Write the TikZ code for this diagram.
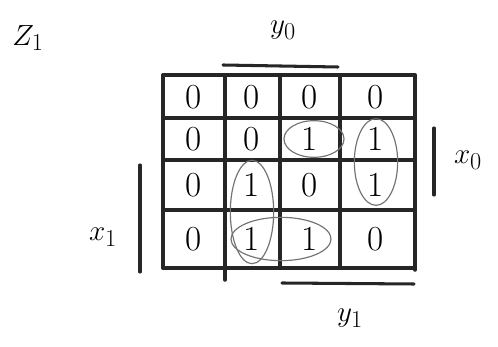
\documentclass[tikz,border=0pt]{standalone}
\usepackage{amsmath,amssymb}
\usetikzlibrary{calc, positioning}

\begin{document}
\begin{tikzpicture}[
    x = 0.03cm, y = -0.03cm,
    cell/.style = {
      inner sep = 0pt, font = \fontsize{30}{34}\selectfont
    },
    label/.style = {
      inner sep = 0pt, font = \fontsize{32}{36}\selectfont
    },
    grid/.style = {
      line width = 3pt, line cap = round, black!85
    },
    bar/.style = {
      line width = 2.6pt, line cap = round, black!85
    },
    ring/.style = {
      line width = 1pt, black!55
    },
    ]
\useasboundingbox (0,0) rectangle (498,347);

% labels
\node  [label]  (z1)  at  (28,38)   {$Z_1$};
\node  [label]  (y0)  at  (283,30)  {$y_0$};
\node  [label]  (x0)  at  (468,160) {$x_0$};
\node  [label]  (x1)  at  (103,237) {$x_1$};
\node  [label]  (y1)  at  (350,318) {$y_1$};

% grid
\draw  [grid]  (163,75)  --  (415,75);
\draw  [grid]  (163,118)  --  (415,118);
\draw  [grid]  (163,160)  --  (415,160);
\draw  [grid]  (163,210)  --  (415,210);
\draw  [grid]  (163,268)  --  (415,268);
\draw  [grid]  (163,75)  --  (163,268);
\draw  [grid]  (225,75)  --  (225,280);
\draw  [grid]  (280,75)  --  (280,268);
\draw  [grid]  (340,75)  --  (340,268);
\draw  [grid]  (415,75)  --  (415,270);

% cells
\node  [cell]  (c11)  at  (194,97)   {0};
\node  [cell]  (c12)  at  (252,97)   {0};
\node  [cell]  (c13)  at  (310,97)   {0};
\node  [cell]  (c14)  at  (376,97)   {0};
\node  [cell]  (c21)  at  (194,139)  {0};
\node  [cell]  (c22)  at  (252,139)  {0};
\node  [cell]  (c23)  at  (310,139)  {1};
\node  [cell]  (c24)  at  (376,139)  {1};
\node  [cell]  (c31)  at  (194,185)  {0};
\node  [cell]  (c32)  at  (252,185)  {1};
\node  [cell]  (c33)  at  (310,185)  {0};
\node  [cell]  (c34)  at  (376,185)  {1};
\node  [cell]  (c41)  at  (194,239)  {0};
\node  [cell]  (c42)  at  (252,239)  {1};
\node  [cell]  (c43)  at  (310,239)  {1};
\node  [cell]  (c44)  at  (376,239)  {0};

% groups
\draw  [ring]  ($(c23)+(4,0)$)  ellipse  [x radius = 0.9cm, y radius = 0.55cm];
\draw  [ring]  ($(c24)!0.5!(c34)$)  ellipse  [x radius = 0.65cm, y radius = 1.3cm];
\draw  [ring]  ($(c32)!0.5!(c42)$)  ellipse  [x radius = 0.65cm, y radius = 1.55cm];
\draw  [ring]  ($(c42)!0.5!(c43)$)  ellipse  [x radius = 1.5cm, y radius = 0.65cm];

% bars
\coordinate  (y0a)  at  (223,65);
\coordinate  (y0b)  at  (338,67);
\coordinate  (x0a)  at  (434,128);
\coordinate  (x0b)  at  (434,195);
\coordinate  (x1a)  at  (140,165);
\coordinate  (x1b)  at  (140,272);
\coordinate  (y1a)  at  (282,283);
\coordinate  (y1b)  at  (414,284);
\draw  [bar]  (y0a)  --  (y0b);
\draw  [bar]  (x0a)  --  (x0b);
\draw  [bar]  (x1a)  --  (x1b);
\draw  [bar]  (y1a)  --  (y1b);
\end{tikzpicture}
\end{document}
